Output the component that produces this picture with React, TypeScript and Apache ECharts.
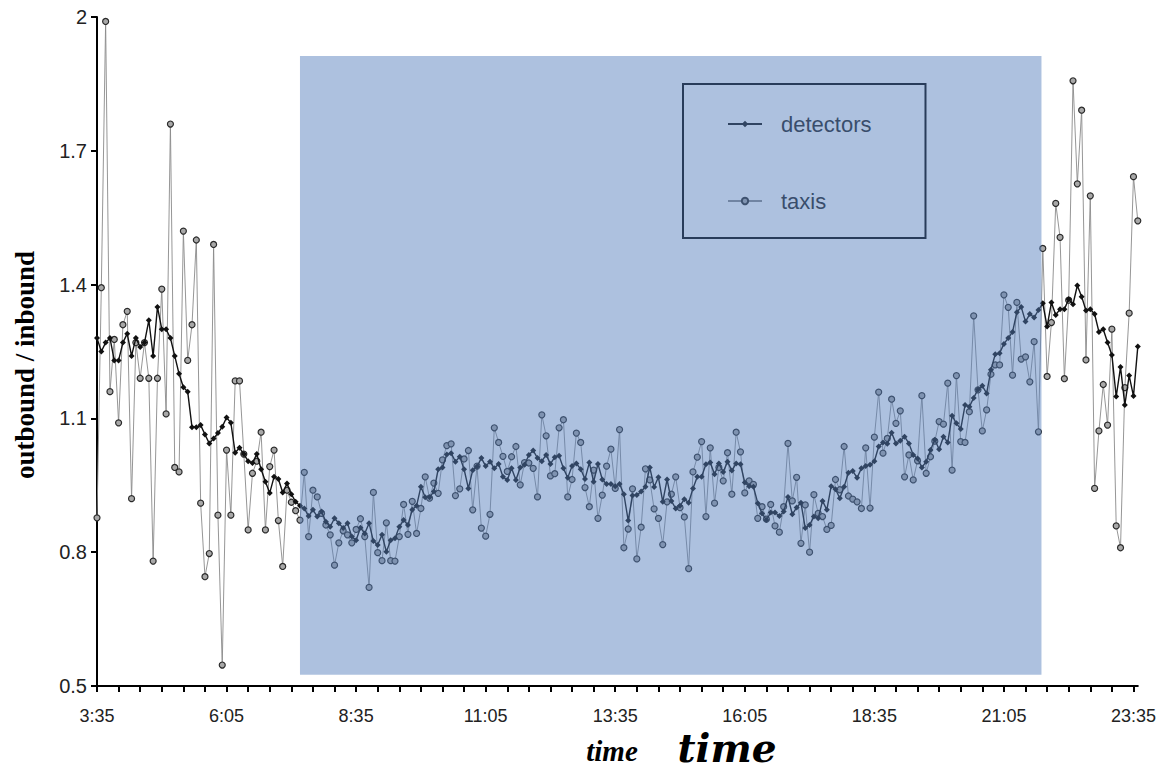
import React, { useEffect, useRef } from "react";
import * as echarts from "echarts";

// time categories: every 5 minutes starting 3:35
const START_MIN = 3 * 60 + 35;
const N_POINTS = 242;
const categories: string[] = [];
for (let k = 0; k < N_POINTS; k++) {
  const m = START_MIN + k * 5;
  categories.push(`${Math.floor(m / 60)}:${String(m % 60).padStart(2, "0")}`);
}

const detectors: number[] = [
  1.28, 1.25, 1.27, 1.28, 1.23, 1.23, 1.27, 1.29, 1.24, 1.28,
  1.26, 1.27, 1.32, 1.24, 1.35, 1.30, 1.30, 1.28, 1.24, 1.20,
  1.17, 1.16, 1.08, 1.08, 1.085, 1.064, 1.044, 1.055, 1.067, 1.081,
  1.102, 1.090, 1.023, 1.034, 1.020, 1.004, 1.00, 1.02, 0.986, 0.958,
  0.933, 0.969, 0.964, 0.934, 0.954, 0.93, 0.913, 0.904, 0.898, 0.881,
  0.895, 0.880, 0.891, 0.868, 0.857, 0.876, 0.865, 0.854, 0.865, 0.835,
  0.827, 0.855, 0.842, 0.865, 0.825, 0.816, 0.839, 0.801, 0.827, 0.831,
  0.857, 0.872, 0.861, 0.895, 0.904, 0.947, 0.923, 0.923, 0.936, 0.986,
  0.990, 1.019, 1.022, 1.003, 1.014, 0.986, 0.943, 0.984, 0.992, 1.011,
  0.993, 1.003, 0.988, 0.998, 0.969, 0.962, 0.988, 0.962, 0.990, 0.996,
  1.018, 1.028, 1.011, 1.004, 1.018, 0.998, 1.013, 1.016, 0.988, 0.967,
  0.993, 0.999, 0.986, 0.964, 1.001, 0.958, 0.998, 0.963, 0.953, 0.953,
  0.948, 0.953, 0.930, 0.871, 0.927, 0.928, 0.936, 0.947, 0.990, 0.946,
  0.968, 0.913, 0.963, 0.915, 0.898, 0.904, 0.919, 0.911, 0.943, 0.969,
  0.969, 0.997, 1.001, 0.975, 0.999, 0.980, 1.003, 0.983, 0.999, 0.997,
  0.956, 0.948, 0.947, 0.910, 0.887, 0.872, 0.889, 0.889, 0.881, 0.891,
  0.924, 0.885, 0.900, 0.911, 0.854, 0.861, 0.880, 0.876, 0.915, 0.895,
  0.948, 0.941, 0.921, 0.947, 0.978, 0.982, 0.967, 0.988, 0.993, 0.996,
  1.004, 1.037, 1.046, 1.043, 1.068, 1.044, 1.050, 1.059, 1.044, 1.018,
  1.010, 0.990, 1.003, 1.029, 1.052, 1.031, 1.059, 1.046, 1.106, 1.089,
  1.076, 1.130, 1.126, 1.146, 1.165, 1.173, 1.156, 1.209, 1.244, 1.246,
  1.267, 1.280, 1.294, 1.338, 1.350, 1.317, 1.334, 1.326, 1.343, 1.358,
  1.306, 1.360, 1.332, 1.345, 1.345, 1.367, 1.356, 1.398, 1.373, 1.342,
  1.345, 1.334, 1.294, 1.300, 1.270, 1.242, 1.149, 1.215, 1.130, 1.196,
  1.150, 1.261,
];

const taxis: number[] = [
  0.877, 1.393, 1.99, 1.16, 1.277, 1.09, 1.31, 1.34, 0.92, 1.27,
  1.19, 1.27, 1.19, 0.78, 1.19, 1.39, 1.11, 1.76, 0.99, 0.98,
  1.52, 1.23, 1.31, 1.50, 0.91, 0.745, 0.797, 1.49, 0.883, 0.547,
  1.029, 0.883, 1.184, 1.184, 1.02, 0.850, 0.977, 1.004, 1.069, 0.850,
  0.992, 1.029, 0.871, 0.768, 0.939, 0.912, 0.893, 0.872, 0.979, 0.835,
  0.939, 0.924, 0.887, 0.861, 0.839, 0.771, 0.821, 0.848, 0.839, 0.821,
  0.851, 0.875, 0.835, 0.721, 0.934, 0.799, 0.781, 0.866, 0.781, 0.780,
  0.835, 0.907, 0.840, 0.914, 0.842, 0.898, 0.969, 0.921, 0.955, 0.932,
  1.007, 1.039, 1.043, 0.927, 0.942, 1.009, 1.028, 0.895, 0.993, 0.854,
  0.836, 0.885, 1.079, 1.046, 1.015, 0.981, 1.014, 1.037, 0.951, 1.001,
  1.0, 0.988, 0.924, 1.108, 1.061, 0.971, 0.976, 1.079, 1.097, 0.924,
  0.963, 1.067, 1.046, 0.945, 0.902, 0.984, 0.876, 0.928, 0.993, 1.031,
  0.943, 1.075, 0.810, 0.852, 0.942, 0.785, 0.856, 0.987, 0.962, 0.897,
  0.876, 0.817, 0.913, 0.930, 0.969, 0.900, 0.879, 0.763, 0.980, 1.013,
  1.048, 0.880, 1.034, 0.910, 0.99, 0.960, 1.023, 0.930, 1.069, 1.025,
  0.933, 0.960, 0.952, 0.876, 0.902, 0.874, 0.907, 0.859, 0.845, 0.902,
  1.044, 0.915, 0.968, 0.820, 0.906, 0.800, 0.929, 0.887, 0.880, 0.851,
  0.860, 0.963, 0.94, 1.037, 0.926, 0.919, 0.913, 0.898, 1.034, 0.899,
  1.058, 1.159, 1.022, 1.055, 1.143, 1.089, 1.117, 0.969, 1.018, 0.962,
  1.005, 1.151, 0.977, 1.014, 1.049, 1.093, 1.087, 1.179, 0.984, 1.196,
  1.048, 1.046, 1.115, 1.330, 1.164, 1.072, 1.119, 1.199, 1.220, 1.220,
  1.377, 1.349, 1.197, 1.360, 1.233, 1.238, 1.182, 1.272, 1.070, 1.481,
  1.194, 1.315, 1.582, 1.506, 1.189, 1.365, 1.857, 1.626, 1.791, 1.231,
  1.599, 0.943, 1.072, 1.176, 1.085, 1.300, 0.859, 0.810, 1.169, 1.336,
  1.642, 1.543,
];

const yTicks = { min: 0.5, max: 2, interval: 0.3 };
const shadeX: [string, string] = ["7:30", "21:45"];
const shadeY: [number, number] = [0.525, 1.9125];

export default function App() {
  const ref = useRef<HTMLDivElement>(null);
  useEffect(() => {
    document.body.style.margin = "0";
    const chart = echarts.init(ref.current!, undefined, { renderer: "svg" });
    const textGraphics: any[] = [
      {
        id: "ytitle",
        type: "text",
        x: 25,
        y: 365,
        rotation: Math.PI / 2,
        style: {
          text: "outbound / inbound",
          fontFamily: "Liberation Serif",
          fontWeight: "bold",
          fontSize: 27,
          fill: "#000",
          align: "center",
          verticalAlign: "middle",
        },
      },
      {
        id: "xtitle1",
        type: "text",
        x: 612,
        y: 751,
        style: {
          text: "time",
          fontFamily: "Liberation Serif",
          fontWeight: "bold",
          fontStyle: "italic",
          fontSize: 29,
          lineHeight: 29,
          fill: "#000",
          align: "center",
          verticalAlign: "middle",
        },
      },
      {
        id: "xtitle2",
        type: "text",
        x: 727,
        y: 748,
        style: {
          text: "time",
          fontFamily: "DejaVu Serif",
          fontWeight: "bold",
          fontStyle: "italic",
          fontSize: 39,
          lineHeight: 39,
          fill: "#000",
          align: "center",
          verticalAlign: "middle",
        },
      },
    ];
    chart.setOption({
      animation: false,
      backgroundColor: "#ffffff",
      grid: { left: 97, right: 18, top: 17, bottom: 86, containLabel: false },
      legend: {
        data: ["detectors", "taxis"],
        orient: "vertical",
        left: 683,
        top: 84,
        padding: [29, 54, 26, 44],
        itemGap: 55,
        itemWidth: 34,
        itemHeight: 8,
        borderColor: "#000",
        borderWidth: 2,
        textStyle: { fontFamily: "Liberation Sans", fontSize: 22, color: "#222", padding: [0, 0, 0, 14] },
      },
      xAxis: {
        type: "category",
        data: categories,
        boundaryGap: false,
        axisLine: { lineStyle: { color: "#000", width: 2 } },
        axisTick: { interval: 4, length: 6, lineStyle: { color: "#000", width: 2 } },
        axisLabel: {
          interval: 29,
          margin: 21,
          fontFamily: "Liberation Sans",
          fontSize: 18,
          lineHeight: 18,
          color: "#222",
        },
        splitLine: { show: false },
      },
      yAxis: {
        type: "value",
        min: yTicks.min,
        max: yTicks.max,
        interval: yTicks.interval,
        axisLine: { show: true, lineStyle: { color: "#000", width: 2 } },
        axisTick: { show: true, length: 6, lineStyle: { color: "#000", width: 2 } },
        axisLabel: {
          margin: 10,
          fontFamily: "Liberation Sans",
          fontSize: 20,
          color: "#222",
          formatter: (v: number) => String(Math.round(v * 10) / 10),
        },
        splitLine: { show: false },
      },
      graphic: textGraphics,
      series: [
        {
          name: "taxis",
          type: "line",
          data: taxis,
          z: 2,
          symbol: "circle",
          symbolSize: 6,
          showAllSymbol: true,
          lineStyle: { color: "#8a8a8a", width: 0.9 },
          itemStyle: { color: "#a8a8a8", borderColor: "#2a2a2a", borderWidth: 1.2 },
        },
        {
          name: "detectors",
          type: "line",
          data: detectors,
          z: 3,
          symbol: "diamond",
          symbolSize: 6,
          showAllSymbol: true,
          lineStyle: { color: "#111", width: 1.4 },
          itemStyle: { color: "#111" },
        },
      ],
    });
    // translucent overlay drawn on top of data and legend, placed via the axes
    const p0 = chart.convertToPixel({ xAxisIndex: 0, yAxisIndex: 0 }, [categories.indexOf(shadeX[0]), shadeY[1]]) as number[];
    const p1 = chart.convertToPixel({ xAxisIndex: 0, yAxisIndex: 0 }, [categories.indexOf(shadeX[1]), shadeY[0]]) as number[];
    chart.setOption({
      graphic: [
        ...textGraphics,
        {
          id: "shade",
          type: "rect",
          z: 100,
          silent: true,
          shape: { x: p0[0], y: p0[1], width: p1[0] - p0[0] + 3, height: p1[1] - p0[1] },
          style: { fill: "rgba(84,125,188,0.48)" },
        },
      ],
    });
    return () => chart.dispose();
  }, []);
  return <div ref={ref} style={{ position: "absolute", left: 0, top: 0, width: 1159, height: 772 }} />;
}
